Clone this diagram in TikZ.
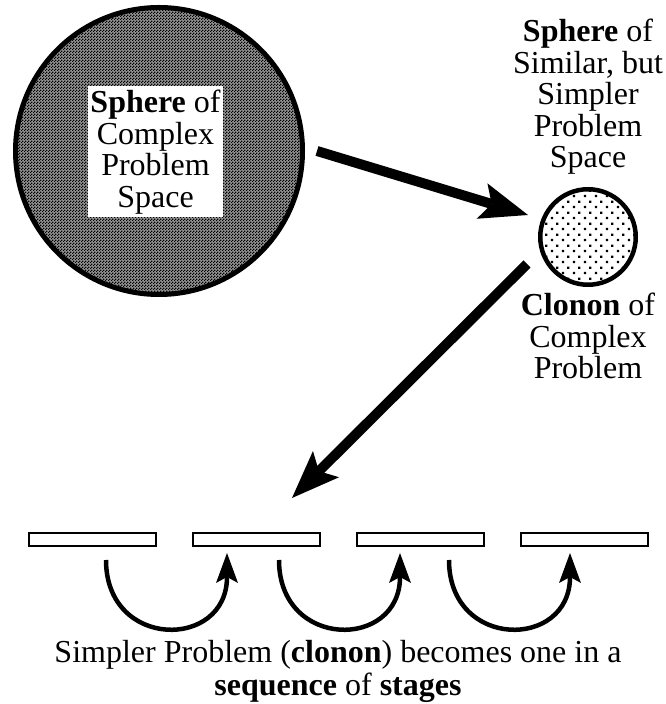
\documentclass[tikz,border=0pt]{standalone}
\usepackage{fontspec}
\setmainfont{Liberation Serif}
\usetikzlibrary{positioning, arrows.meta, patterns}
\pgfdeclarepatternformonly{finecheck}{\pgfpointorigin}{\pgfpoint{3pt}{3pt}}{\pgfpoint{3pt}{3pt}}{%
  \pgfpathrectangle{\pgfpointorigin}{\pgfpoint{1.5pt}{1.5pt}}%
  \pgfpathrectangle{\pgfpoint{1.5pt}{1.5pt}}{\pgfpoint{1.5pt}{1.5pt}}%
  \pgfusepath{fill}}
\pgfdeclarepatternformonly{sparsedots}{\pgfpointorigin}{\pgfpoint{11pt}{11pt}}{\pgfpoint{11pt}{11pt}}{%
  \pgfpathrectangle{\pgfpoint{1pt}{1pt}}{\pgfpoint{2.5pt}{2.5pt}}%
  \pgfpathrectangle{\pgfpoint{6.5pt}{6.5pt}}{\pgfpoint{2.5pt}{2.5pt}}%
  \pgfusepath{fill}}
\tikzset{node distance=35pt,
  bigsphere/.style={circle, draw, line width=5pt, minimum size=287pt, inner sep=0,
    preaction={fill=black!42}, pattern=finecheck},
  smallsphere/.style={circle, draw, line width=4.5pt, minimum size=95.5pt, inner sep=0, pattern=sparsedots},
  stagebox/.style={draw, line width=2pt, fill=white, minimum width=127pt, minimum height=13pt, inner sep=0},
  blocktext/.style={inner sep=0, align=center, font=\fontsize{32}{31.5}\selectfont},
  bigarrow/.style={line width=10pt, -{Stealth[length=48pt, width=37pt, inset=10pt, line width=0pt]}},
  hoparrow/.style={line width=4.5pt, -{Stealth[length=30pt, width=22pt, inset=6pt, line width=0pt]}},
}

\begin{document}
\begin{tikzpicture}[x=1pt, y=1pt]
    \useasboundingbox (0,0) rectangle (665,704);

    \node[bigsphere](sphere) at (159,553) {};
    \node[blocktext, fill=white, minimum width=135pt, minimum height=131pt](spheretext) at (155.5,552)
        {\textbf{Sphere} of\\Complex\\Problem\\Space};
    \node[smallsphere](clonon) at (588,467) {};
    \node[blocktext, anchor=base](simplertext) at (588,536) {\textbf{Sphere} of\\Similar, but\\Simpler\\Problem\\Space};
    \node[blocktext, below=6pt of clonon](clonontext) {\textbf{Clonon} of\\Complex\\Problem};

    \node[stagebox](st1) at (92.5,164.5) {};
    \node[stagebox, right=35pt of st1](st2) {};
    \node[stagebox, right=35pt of st2](st3) {};
    \node[stagebox, right=35pt of st3](st4) {};

    \draw[bigarrow] ([xshift=12pt]sphere.east) -- ([shift={(-10pt,22pt)}]clonon.west);
    \draw[bigarrow] ([shift={(-61pt,-27pt)}]clonon.center) -- ([shift={(100pt,34pt)}]st2.north west);

    \foreach \n/\x in {1/106, 2/279, 3/449} {
        \coordinate (hopstart\n) at (\x,144);
        \coordinate (hopend\n) at (\x+121,151);
        \draw[hoparrow] (hopstart\n) .. controls +(0,-90) and +(0,-97) .. (hopend\n);
    }

    \node[blocktext, font=\fontsize{32}{33}\selectfont, anchor=north](caption) at (338,64)
        {Simpler Problem (\textbf{clonon}) becomes one in a\\\textbf{sequence} of \textbf{stages}};
\end{tikzpicture}
\end{document}
